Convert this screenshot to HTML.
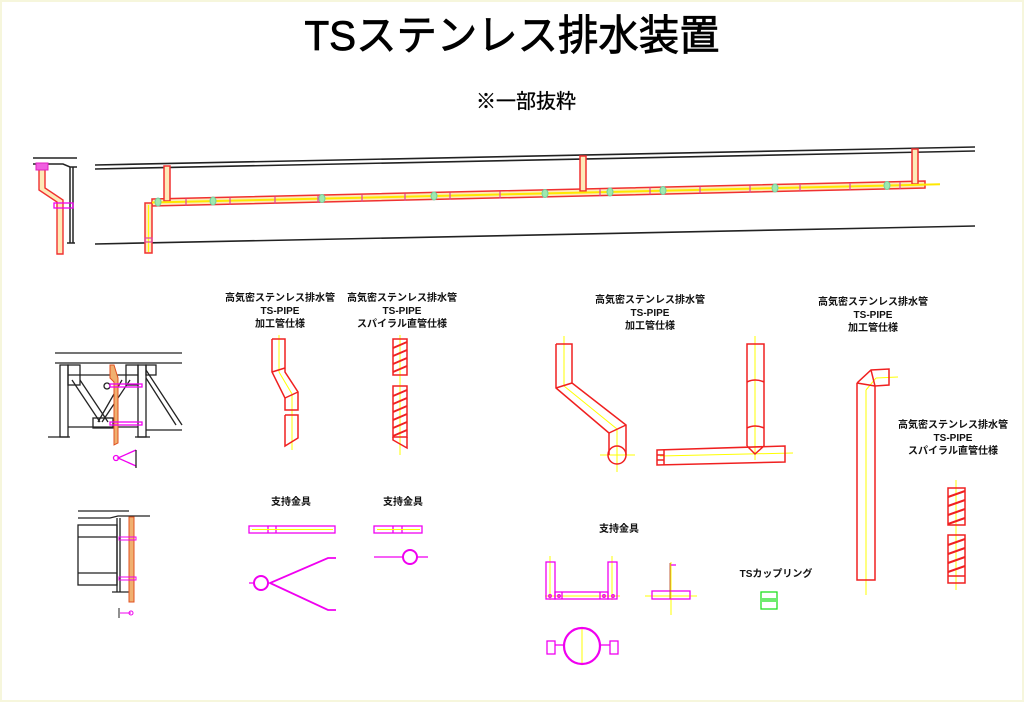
<!DOCTYPE html>
<html><head><meta charset="utf-8"><style>
html,body{margin:0;padding:0;background:#fff}
svg{display:block}
text{font-family:"Liberation Sans","Noto Sans CJK JP",sans-serif}
</style></head><body>
<svg width="1024" height="702" viewBox="0 0 1024 702" xmlns="http://www.w3.org/2000/svg">
<rect x="0" y="0" width="1024" height="702" fill="#fff" stroke="#f6f6dc" stroke-width="4"/>
<text x="512" y="50" font-size="42" text-anchor="middle" textLength="415" lengthAdjust="spacingAndGlyphs" fill="#000" stroke="#000" stroke-width="0.8">TSステンレス排水装置</text>
<text x="526" y="108" font-size="20" text-anchor="middle" fill="#000" stroke="#000" stroke-width="0.3">※一部抜粋</text>

<g stroke="#222" stroke-width="1.6" fill="none">
<line x1="95" y1="165" x2="975" y2="147"/><line x1="95" y1="169" x2="975" y2="151"/>
<line x1="95" y1="244" x2="975" y2="226"/>
</g>
<g stroke="#f03030" stroke-width="1.5" fill="#fdeab8">
<polygon points="152,199 925,181 925,188 152,206"/>
<rect x="145" y="203" width="7" height="50"/>
<rect x="164" y="166" width="6" height="35"/>
<rect x="580" y="156" width="6" height="35"/>
<rect x="912" y="149" width="6" height="35"/>
</g>
<line x1="152" y1="202.5" x2="940" y2="184.3" stroke="#ffe800" stroke-width="2"/>
<line x1="148.5" y1="205" x2="148.5" y2="252" stroke="#ff0" stroke-width="1"/>
<g stroke="#e040a0" stroke-width="1.2">
<line x1="186" y1="198.5" x2="186" y2="205.5"/><line x1="230" y1="197.5" x2="230" y2="204.5"/><line x1="275" y1="196.5" x2="275" y2="203.5"/><line x1="318" y1="195.5" x2="318" y2="202.5"/><line x1="362" y1="194.5" x2="362" y2="201.5"/><line x1="405" y1="193.5" x2="405" y2="200.5"/><line x1="450" y1="192.5" x2="450" y2="199.5"/><line x1="500" y1="191.5" x2="500" y2="198.5"/><line x1="545" y1="190" x2="545" y2="197"/><line x1="600" y1="189" x2="600" y2="196"/><line x1="650" y1="187.5" x2="650" y2="194.5"/><line x1="700" y1="186.5" x2="700" y2="193.5"/><line x1="750" y1="185.5" x2="750" y2="192.5"/><line x1="800" y1="184" x2="800" y2="191"/><line x1="850" y1="183" x2="850" y2="190"/><line x1="900" y1="182" x2="900" y2="189"/>
<rect x="145" y="238" width="7" height="4" fill="none"/>
</g>
<g fill="#9fe8b0" stroke="#70d0a0">
<ellipse cx="158" cy="202" rx="3" ry="4"/><ellipse cx="213" cy="201" rx="3" ry="4"/><ellipse cx="322" cy="198.5" rx="3" ry="4"/><ellipse cx="434" cy="196" rx="3" ry="4"/><ellipse cx="545" cy="193.5" rx="3" ry="4"/><ellipse cx="610" cy="192" rx="3" ry="4"/><ellipse cx="663" cy="190.5" rx="3" ry="4"/><ellipse cx="775" cy="188" rx="3" ry="4"/><ellipse cx="887" cy="185.5" rx="3" ry="4"/>
</g>

<g stroke="#222" stroke-width="1.5" fill="none">
<line x1="33" y1="158" x2="77" y2="158"/><polyline points="33,164 63,164 70,167 77,167"/>
<line x1="70" y1="167" x2="70" y2="243"/><line x1="73" y1="167" x2="73" y2="243"/><line x1="67" y1="243" x2="75" y2="243"/>
</g>
<polygon points="39,168 45,168 45,188 63,200 63,254 57,254 57,202 39,190" fill="#fdeab8" stroke="#f03030" stroke-width="1.4"/>
<rect x="36" y="163" width="12" height="7" fill="#f060e0" stroke="#e020c0"/>
<rect x="54" y="203" width="19" height="5" fill="none" stroke="#f000f0" stroke-width="1.3"/>

<g stroke="#222" stroke-width="1.3" fill="none">
<line x1="55" y1="353" x2="182" y2="353"/><line x1="55" y1="363" x2="182" y2="363"/>
<rect x="60" y="365" width="8" height="72"/><rect x="138" y="365" width="8" height="72"/>
<line x1="68" y1="375" x2="138" y2="375"/><line x1="68" y1="427" x2="138" y2="427"/>
<rect x="68" y="365" width="12" height="20"/><rect x="126" y="365" width="12" height="20"/>
<line x1="72" y1="380" x2="100" y2="422"/><line x1="80" y1="380" x2="108" y2="422"/>
<line x1="130" y1="380" x2="102" y2="422"/><line x1="122" y1="380" x2="98" y2="422"/>
<rect x="93" y="418" width="20" height="10"/>
<line x1="146" y1="370" x2="182" y2="425"/><line x1="146" y1="378" x2="176" y2="425"/>
<line x1="146" y1="430" x2="182" y2="430"/><line x1="48" y1="437" x2="70" y2="437"/><line x1="135" y1="437" x2="150" y2="437"/>
<circle cx="107" cy="386" r="3"/>
<rect x="146" y="365" width="10" height="10"/>
</g>
<polygon points="110,365 114,365 118,378 118,443 114,445 114,382 110,378" fill="#f0b070" stroke="#e05020"/>
<rect x="110" y="384" width="32" height="3" fill="none" stroke="#f000f0" stroke-width="1.3"/>
<rect x="110" y="422" width="32" height="3" fill="none" stroke="#f000f0" stroke-width="1.3"/>
<g stroke="#f000f0" stroke-width="1.3" fill="none"><circle cx="116" cy="458" r="2.5"/><polyline points="136,450 118,458 136,466"/><line x1="136" y1="450" x2="136" y2="468" stroke="#222"/></g>

<g stroke="#222" stroke-width="1.3" fill="none">
<line x1="78" y1="511" x2="129" y2="511"/><polyline points="78,518 110,518 118,516 150,516"/>
<rect x="78" y="525" width="39" height="60"/><line x1="78" y1="537" x2="117" y2="537"/><line x1="78" y1="573" x2="117" y2="573"/>
<line x1="117" y1="518" x2="117" y2="592"/><line x1="120" y1="518" x2="120" y2="592"/><line x1="112" y1="592" x2="129" y2="592"/>
</g>
<rect x="129" y="517" width="5" height="85" fill="#f0b070" stroke="#e05020"/>
<rect x="119" y="537" width="17" height="3" fill="none" stroke="#f000f0"/>
<rect x="119" y="577" width="17" height="3" fill="none" stroke="#f000f0"/>
<g stroke="#f000f0" fill="none"><line x1="120" y1="613" x2="131" y2="613"/><circle cx="131" cy="613" r="2"/><line x1="119" y1="608" x2="119" y2="618" stroke="#222"/></g>

<g font-size="10" text-anchor="middle" fill="#111" font-weight="bold">
<text x="280" y="301">高気密ステンレス排水管</text><text x="280" y="314">TS-PIPE</text><text x="280" y="327">加工管仕様</text>
<text x="402" y="301">高気密ステンレス排水管</text><text x="402" y="314">TS-PIPE</text><text x="402" y="327">スパイラル直管仕様</text>
<text x="650" y="303">高気密ステンレス排水管</text><text x="650" y="316">TS-PIPE</text><text x="650" y="329">加工管仕様</text>
<text x="873" y="305">高気密ステンレス排水管</text><text x="873" y="318">TS-PIPE</text><text x="873" y="331">加工管仕様</text>
<text x="953" y="428">高気密ステンレス排水管</text><text x="953" y="441">TS-PIPE</text><text x="953" y="454">スパイラル直管仕様</text>
<text x="291" y="505">支持金具</text><text x="403" y="505">支持金具</text><text x="619" y="532">支持金具</text>
<text x="776" y="577">TSカップリング</text>
</g>

<g stroke="#ff0" stroke-width="1"><line x1="279" y1="335" x2="279" y2="372"/><line x1="279" y1="372" x2="292" y2="394"/><line x1="292" y1="394" x2="292" y2="450"/>
<line x1="400" y1="335" x2="400" y2="455"/></g>
<g stroke="#f02020" stroke-width="1.5" fill="none">
<polyline points="272,339 285,339 285,372 298,392 298,410 285,410 285,398 272,372 272,339"/><line x1="272" y1="372" x2="285" y2="368"/><line x1="285" y1="398" x2="298" y2="392"/>
<polyline points="285,415 298,415 298,438 285,446 285,415"/>
<rect x="393" y="339" width="14" height="36"/><rect x="393" y="386" width="14" height="51"/><polyline points="393,437 393,440 407,448 407,437"/>
</g>
<g stroke="#f02020" stroke-width="2" fill="none">
<line x1="393" y1="348" x2="407" y2="342"/><line x1="393" y1="356" x2="407" y2="350"/><line x1="393" y1="364" x2="407" y2="358"/><line x1="393" y1="372" x2="407" y2="366"/>
<line x1="393" y1="396" x2="407" y2="390"/><line x1="393" y1="404" x2="407" y2="398"/><line x1="393" y1="412" x2="407" y2="406"/><line x1="393" y1="420" x2="407" y2="414"/><line x1="393" y1="428" x2="407" y2="422"/><line x1="393" y1="436" x2="407" y2="430"/>
</g>

<g stroke="#f000f0" stroke-width="1.3" fill="none">
<rect x="249" y="526" width="86" height="7"/><line x1="268" y1="526" x2="268" y2="533"/><line x1="276" y1="526" x2="276" y2="533"/>
<rect x="374" y="526" width="48" height="7"/><line x1="393" y1="526" x2="393" y2="533"/><line x1="402" y1="526" x2="402" y2="533"/>
<circle cx="261" cy="583" r="7" stroke-width="2"/><line x1="249" y1="583" x2="254" y2="583"/><polyline points="336,558 328,558 270,583 328,610 336,610" stroke-width="1.8"/>
<circle cx="410" cy="557" r="7" stroke-width="2"/><line x1="374" y1="557" x2="403" y2="557"/><line x1="417" y1="557" x2="428" y2="557"/>
</g>
<g stroke="#ff0" stroke-width="1"><line x1="252" y1="529.5" x2="333" y2="529.5"/><line x1="377" y1="529.5" x2="420" y2="529.5"/></g>

<g stroke="#ff0" stroke-width="1"><line x1="564" y1="336" x2="564" y2="386"/><line x1="564" y1="386" x2="617" y2="429"/><line x1="617" y1="429" x2="617" y2="472"/><line x1="600" y1="455" x2="635" y2="455"/>
<line x1="755" y1="336" x2="755" y2="460"/><line x1="660" y1="456" x2="793" y2="453"/>
<line x1="866" y1="390" x2="866" y2="595"/><line x1="866" y1="390" x2="876" y2="378"/><line x1="876" y1="378" x2="898" y2="377"/>
<line x1="956" y1="480" x2="956" y2="590"/><line x1="671" y1="562" x2="671" y2="615"/><line x1="645" y1="596" x2="697" y2="596"/>
<line x1="582" y1="628" x2="582" y2="664"/><line x1="545" y1="596" x2="620" y2="596"/><line x1="550" y1="556" x2="550" y2="600"/><line x1="612" y1="556" x2="612" y2="600"/></g>
<g stroke="#f02020" stroke-width="1.5" fill="none">
<polyline points="556,344 572,344 572,383 626,425 626,455"/><polyline points="556,344 556,388 609,433 609,455"/><line x1="556" y1="388" x2="572" y2="383"/><line x1="609" y1="433" x2="626" y2="425"/>
<circle cx="617" cy="455" r="9"/>
<polyline points="747,446 747,344 764,344 764,446"/><polyline points="747,446 755,454 764,446"/>
<path d="M747,382 Q755,378 764,382 M747,428 Q755,424 764,428"/>
<polygon points="657,450 785,446 785,462 657,465"/><line x1="664" y1="450" x2="664" y2="465"/><line x1="657" y1="455" x2="664" y2="455"/><line x1="657" y1="460" x2="664" y2="460"/>
<polyline points="857,383 857,580 875,580 875,386"/><polyline points="857,383 871,370 889,369 889,385 875,386 871,370"/><line x1="857" y1="383" x2="875" y2="386"/>
<rect x="948" y="488" width="17" height="37"/><rect x="948" y="535" width="17" height="48"/><line x1="948" y1="576" x2="965" y2="576"/>
</g>
<g stroke="#f02020" stroke-width="2" fill="none">
<line x1="948" y1="497" x2="965" y2="491"/><line x1="948" y1="506" x2="965" y2="500"/><line x1="948" y1="515" x2="965" y2="509"/><line x1="948" y1="524" x2="965" y2="518"/>
<line x1="948" y1="545" x2="965" y2="539"/><line x1="948" y1="554" x2="965" y2="548"/><line x1="948" y1="563" x2="965" y2="557"/><line x1="948" y1="572" x2="965" y2="566"/>
</g>

<g stroke="#f000f0" stroke-width="1.3" fill="none">
<rect x="546" y="562" width="9" height="37"/><rect x="608" y="562" width="9" height="37"/><rect x="555" y="592" width="53" height="7"/><line x1="600" y1="592" x2="600" y2="599"/><line x1="562" y1="592" x2="562" y2="599"/>
<circle cx="550" cy="596" r="1.3"/><circle cx="559" cy="596" r="1.3"/><circle cx="604" cy="596" r="1.3"/><circle cx="613" cy="596" r="1.3"/>
<rect x="652" y="591" width="38" height="8"/><line x1="671" y1="565" x2="676" y2="565"/>
<circle cx="582" cy="646" r="18" stroke-width="2.2"/><rect x="547" y="641" width="8" height="13"/><rect x="610" y="641" width="8" height="13"/><line x1="555" y1="645" x2="564" y2="645"/><line x1="600" y1="645" x2="610" y2="645"/>
</g>
<line x1="670" y1="563" x2="670" y2="599" stroke="#c06040"/>
<g stroke="#20e020" stroke-width="1.3" fill="none"><rect x="761" y="592" width="16" height="17"/><line x1="762" y1="599" x2="776" y2="599"/><line x1="762" y1="601" x2="776" y2="601"/></g>
</svg>
</body></html>
